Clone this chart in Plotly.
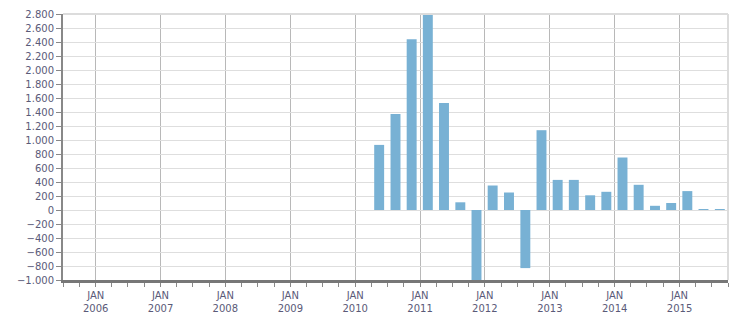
import plotly.graph_objects as go

# Quarterly values (bar centred on middle of the quarter)
quarters = ["2010-05-16", "2010-08-16", "2010-11-15", "2011-02-14", "2011-05-16",
            "2011-08-16", "2011-11-15", "2012-02-14", "2012-05-16", "2012-08-16",
            "2012-11-15", "2013-02-14", "2013-05-16", "2013-08-16", "2013-11-15",
            "2014-02-14", "2014-05-16", "2014-08-16", "2014-11-15", "2015-02-14",
            "2015-05-16", "2015-08-16"]
values = [930, 1370, 2440, 2820, 1530,
          110, -1050, 350, 250, -830,
          1140, 430, 430, 210, 260,
          750, 360, 60, 100, 270,
          8, 8]

tick_vals = ["2006-01-01", "2007-01-01", "2008-01-01", "2009-01-01", "2010-01-01",
             "2011-01-01", "2012-01-01", "2013-01-01", "2014-01-01", "2015-01-01"]
tick_text = ["JAN<br>2006", "JAN<br>2007", "JAN<br>2008", "JAN<br>2009", "JAN<br>2010",
             "JAN<br>2011", "JAN<br>2012", "JAN<br>2013", "JAN<br>2014", "JAN<br>2015"]

x_range = ["2005-07-01", "2015-10-01"]
y_range = [-1000, 2800]

DAY_MS = 86400000
fig = go.Figure()
fig.add_trace(go.Bar(x=quarters, y=values, width=56 * DAY_MS,
                     marker=dict(color="#78b1d4", line=dict(width=0)),
                     hoverinfo="x+y"))

font = dict(family="Tahoma, DejaVu Sans, sans-serif", size=10, color="#5a5a78")

fig.update_layout(
    width=751, height=313,
    margin=dict(l=63, r=23, t=14, b=33),
    paper_bgcolor="white", plot_bgcolor="white",
    showlegend=False,
    separators=",.",
    font=font,
    xaxis=dict(
        type="date", range=x_range, automargin=False,
        tickvals=tick_vals, ticktext=tick_text,
        showgrid=True, gridcolor="#b8b8b8", gridwidth=1,
        ticks="outside", ticklen=4, tickcolor="#888",
        minor=dict(dtick="M3", tick0="2006-01-01", ticks="outside", ticklen=4,
                   tickcolor="#888", showgrid=False),
        showline=True, linecolor="#777", linewidth=3,
        tickfont=font, zeroline=False, fixedrange=True,
    ),
    yaxis=dict(
        range=y_range, dtick=200, tick0=0, automargin=False,
        showgrid=True, gridcolor="#dedede", gridwidth=1,
        ticks="outside", ticklen=5, tickcolor="#888",
        showline=True, linecolor="#888", linewidth=2,
        tickformat=",d", tickfont=font, zeroline=False, fixedrange=True,
    ),
    shapes=[
        dict(type="line", xref="paper", yref="paper", x0=0, x1=1, y0=1, y1=1,
             line=dict(color="#dcdcdc", width=2)),
        dict(type="line", xref="paper", yref="paper", x0=1, x1=1, y0=0, y1=1,
             line=dict(color="#dcdcdc", width=2)),
    ],
)

fig.write_html("out.html")
